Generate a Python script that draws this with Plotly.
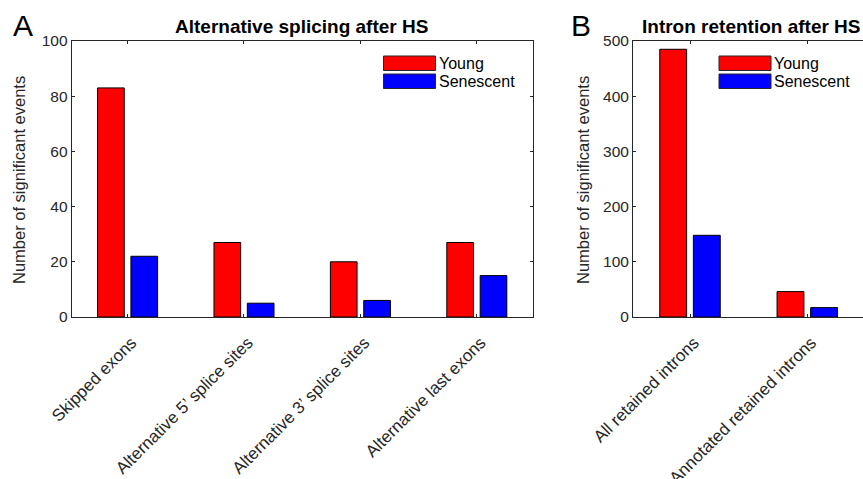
import plotly.graph_objects as go

W, H = 863, 479

# ---- data ----
cats_a = ["Skipped exons", "Alternative 5’ splice sites",
          "Alternative 3’ splice sites", "Alternative last exons"]
young_a = [83, 27, 20, 27]
senescent_a = [22, 5, 6, 15]
yticks_a = [0, 20, 40, 60, 80, 100]

cats_b = ["All retained introns", "Annotated retained introns"]
young_b = [485, 46]
senescent_b = [148, 17]
yticks_b = [0, 100, 200, 300, 400, 500]

series_names = ["Young", "Senescent"]
series_colors = ["#FF0000", "#0000FF"]

FONT = "Liberation Sans, Arial, Helvetica, sans-serif"
AX = "#262626"


def px(x):
    return x / W


def py(y):
    return 1 - y / H


fig = go.Figure()
for vals, name, col in [(young_a, series_names[0], series_colors[0]),
                        (senescent_a, series_names[1], series_colors[1])]:
    fig.add_trace(go.Bar(x=cats_a, y=vals, name=name, marker_color=col,
                         marker_line=dict(color="#000000", width=1),
                         xaxis="x", yaxis="y", showlegend=False))
for vals, name, col in [(young_b, series_names[0], series_colors[0]),
                        (senescent_b, series_names[1], series_colors[1])]:
    fig.add_trace(go.Bar(x=cats_b, y=vals, name=name, marker_color=col,
                         marker_line=dict(color="#000000", width=1),
                         xaxis="x2", yaxis="y2", showlegend=False))

common_x = dict(showline=True, linecolor=AX, linewidth=1, ticks="inside",
                ticklen=3, tickcolor=AX,
                tickfont=dict(family=FONT, size=17, color=AX), tickangle=-45,
                ticklabelstandoff=8, ticklabelshift=4,
                showgrid=False, zeroline=False, fixedrange=True, automargin=False)
common_y = dict(showline=True, linecolor=AX, linewidth=1, ticks="inside",
                ticklen=3, tickcolor=AX,
                tickfont=dict(family=FONT, size=15.5, color=AX), showgrid=False,
                zeroline=False, fixedrange=True, automargin=False)

ydom = [py(317), py(41)]
fig.update_layout(
    width=W, height=H,
    margin=dict(l=0, r=0, t=0, b=0, pad=0, autoexpand=False),
    paper_bgcolor="white", plot_bgcolor="white",
    barmode="group", bargap=0.427, bargroupgap=0.2,
    font=dict(family=FONT, color=AX),
    xaxis=dict(domain=[px(71.7), px(532.7)], anchor="y", range=[-0.48, 3.48],
               mirror="ticks", **common_x),
    yaxis=dict(domain=ydom, anchor="x", range=[0, 100], tickvals=yticks_a,
               mirror="ticks", **common_y),
    xaxis2=dict(domain=[px(633), 1.0], anchor="y2", range=[-0.486, 1.475],
                mirror="ticks", **common_x),
    yaxis2=dict(domain=ydom, anchor="x2", range=[0, 500], tickvals=yticks_b,
                mirror=False, **common_y),
    yaxis3=dict(overlaying="y2", anchor="x2", side="right", range=[0, 500],
                tickvals=yticks_b, ticks="inside", ticklen=3, tickcolor=AX,
                showticklabels=False, showline=False, showgrid=False,
                zeroline=False, fixedrange=True, automargin=False),
)

ann = []
# panel letters
for letter, xl in (("A", 11), ("B", 569)):
    ann.append(dict(text=letter, x=px(xl), y=py(25), xref="paper", yref="paper",
                    xanchor="left", yanchor="middle", showarrow=False,
                    font=dict(family=FONT, size=30, color="#000000")))
# titles
ann.append(dict(text="<b>Alternative splicing after HS</b>", x=px(301), y=py(26),
                xref="paper", yref="paper", xanchor="center", yanchor="middle",
                showarrow=False, font=dict(family=FONT, size=19, color="#000000")))
ann.append(dict(text="<b>Intron retention after HS</b>", x=px(751), y=py(26),
                xref="paper", yref="paper", xanchor="center", yanchor="middle",
                showarrow=False, font=dict(family=FONT, size=19, color="#000000")))
# y titles
for xp in (19, 583):
    ann.append(dict(text="Number of significant events", x=px(xp), y=py(180),
                    xref="paper", yref="paper", xanchor="center", yanchor="middle",
                    textangle=-90, showarrow=False,
                    font=dict(family=FONT, size=16.5, color=AX)))

shapes = []
# manual legends (MATLAB-style wide swatches)
for x0, x1, tx in [(383.5, 435.5, 437), (719, 771, 772)]:
    for i, (name, col) in enumerate(zip(series_names, series_colors)):
        y0 = 56 + i * 18
        shapes.append(dict(type="rect", xref="paper", yref="paper",
                           x0=px(x0), x1=px(x1), y0=py(y0), y1=py(y0 + 14.5),
                           fillcolor=col, line=dict(color="#262626", width=1)))
        ann.append(dict(text=name, x=px(tx), y=py(y0 + 7.5), xref="paper",
                        yref="paper", xanchor="left", yanchor="middle",
                        showarrow=False,
                        font=dict(family=FONT, size=16, color="#000000")))

fig.update_layout(annotations=ann, shapes=shapes)
fig.write_html("out.html", config={"displayModeBar": False},
               post_script="document.body.style.margin='0';")
